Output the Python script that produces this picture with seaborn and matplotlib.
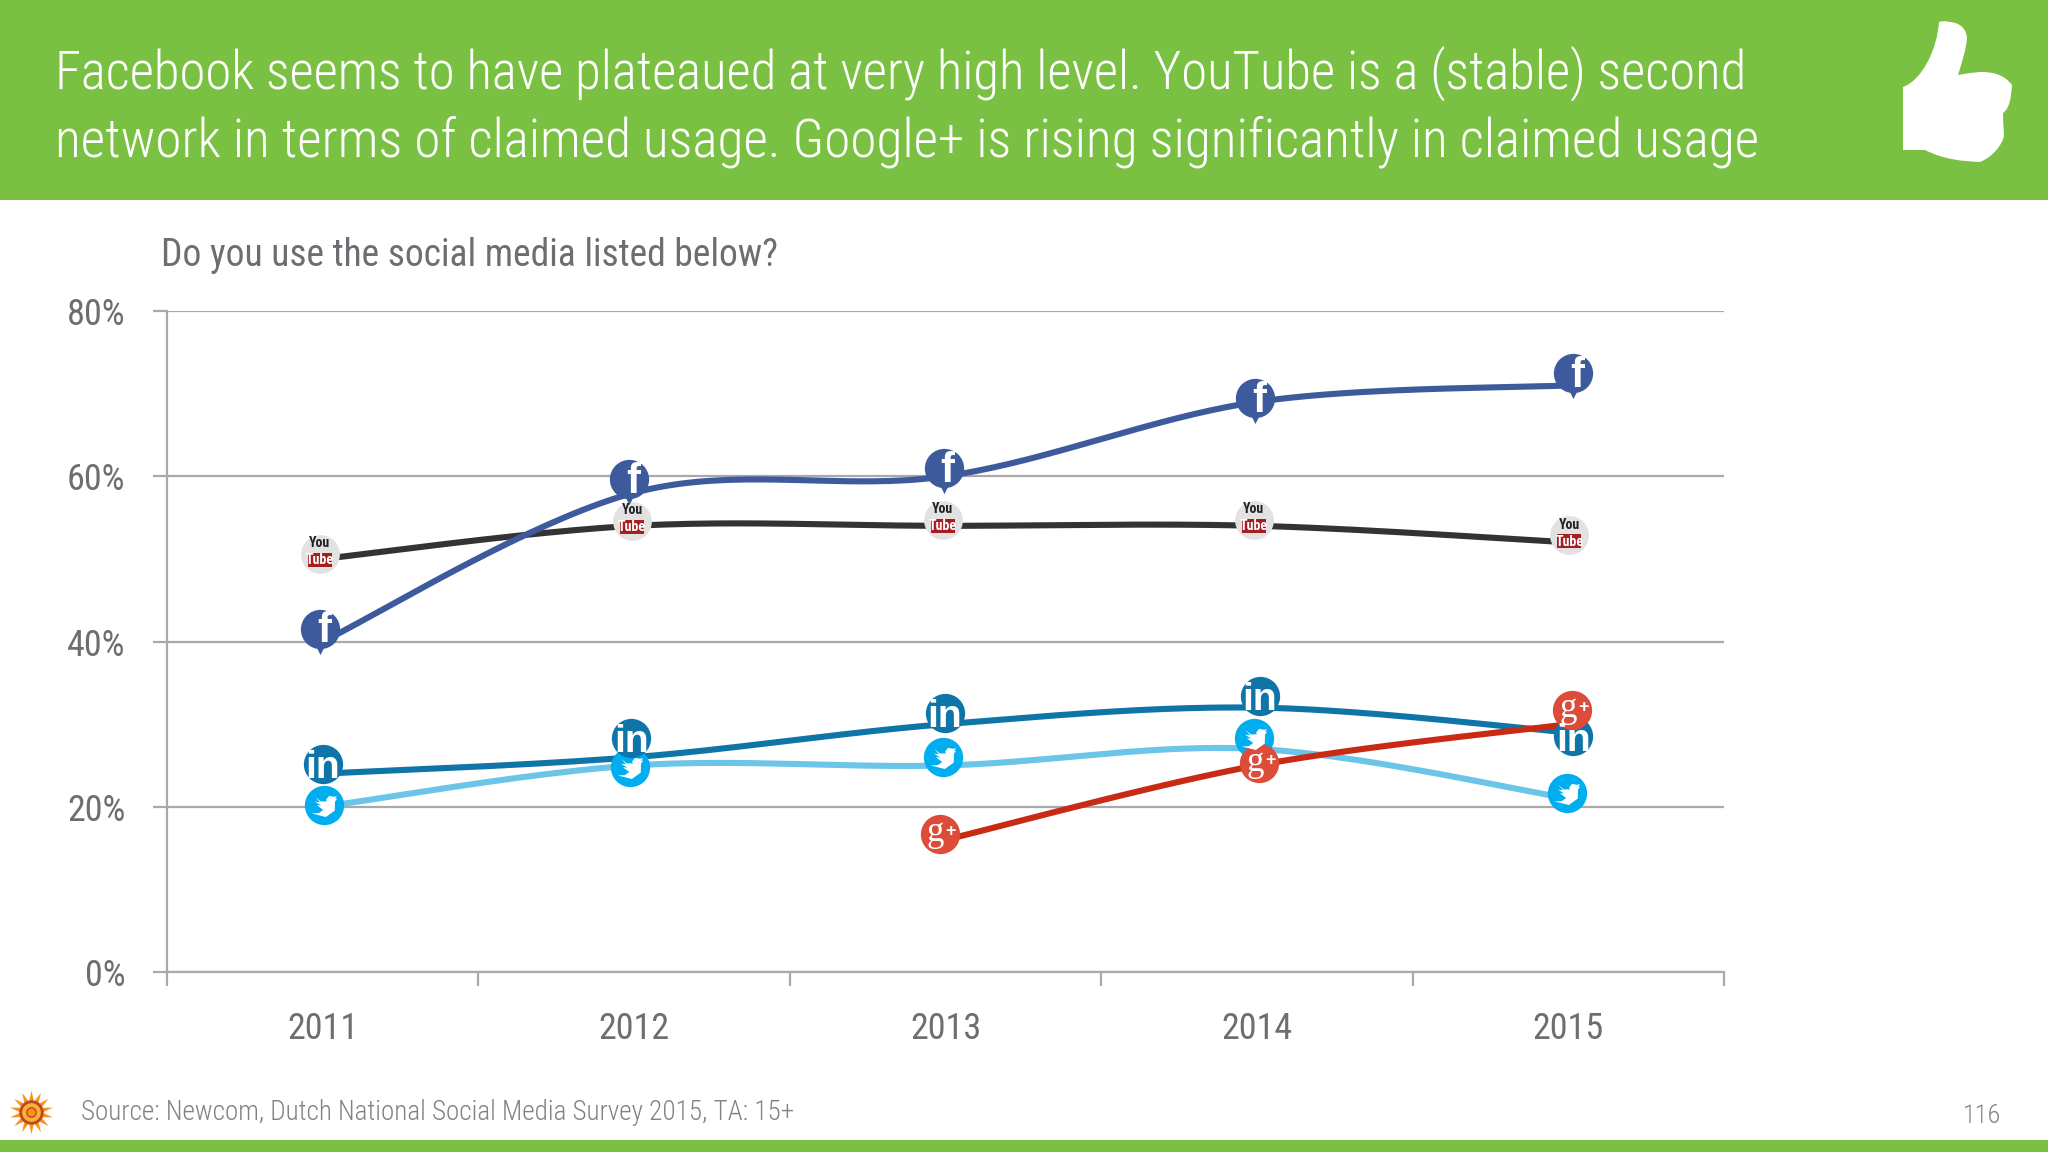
import numpy as np
import pandas as pd
import matplotlib
matplotlib.use("Agg")
import matplotlib.pyplot as plt
import seaborn as sns
from matplotlib.path import Path
from matplotlib.patches import PathPatch, Rectangle
from matplotlib.transforms import offset_copy

years = ["2011", "2012", "2013", "2014", "2015"]
y_ticks = [0, 20, 40, 60, 80]
facebook = [40, 58, 60, 69, 71]
youtube = [50, 54, 54, 54, 52]
linkedin = [24, 26, 30, 32, 29]
twitter = [20, 25, 25, 27, 21]
googleplus = [np.nan, np.nan, 16, 25, 30]

title_lines = ["Facebook seems to have plateaued at very high level. YouTube is a (stable) second",
               "network in terms of claimed usage. Google+ is rising significantly in claimed usage"]
question = "Do you use the social media listed below?"
source = "Source: Newcom, Dutch National Social Media Survey 2015, TA: 15+"
page = "116"

GREEN = "#7AC143"
FONT = ["Roboto Condensed", "Roboto", "DejaVu Sans"]
W, H = 2048, 1152
sns.set_theme(style="white")
plt.rcParams["font.family"] = FONT

fig = plt.figure(figsize=(W / 100, H / 100), dpi=100, facecolor="white")
bg = fig.add_axes([0, 0, 1, 1], zorder=0)
bg.set_xlim(0, W); bg.set_ylim(H, 0); bg.axis("off")
bg.add_patch(Rectangle((0, 0), W, 200, color=GREEN, lw=0))
bg.add_patch(Rectangle((0, 1140), W, 12, color=GREEN, lw=0))
for txt, yy, fs in zip(title_lines, (74, 142), (38, 38.3)):
    bg.text(55, yy, txt, color="white", fontsize=fs, va="center", ha="left", fontweight=300)
bg.text(161, 255, question, color="#6d6e71", fontsize=27, va="center", fontweight=400)
bg.text(81, 1113, source, color="#808285", fontsize=19.5, va="center", fontweight=300)
bg.text(2001, 1116, page, color="#808285", fontsize=19, va="center", ha="right", fontweight=300)

# thumbs-up decoration
M, L, C = Path.MOVETO, Path.LINETO, Path.CURVE4
thumb_v = [(1903, 87), (1922, 80), (1937, 50), (1939, 22), (1944, 21), (1950, 22), (1953, 22),
           (1966, 24), (1967, 38), (1966, 50), (1962, 62), (1958, 75), (1970, 73), (1980, 72), (1990, 72),
           (2003, 73), (2012, 85), (2011, 97), (2010, 108), (2003, 113), (2003, 124), (2004, 132), (2004, 136), (2003, 142),
           (1995, 156), (1980, 162), (1962, 161), (1945, 160), (1925, 150), (1903, 150), (1903, 87)]
thumb_c = [M] + [C] * 3 + [L] * 2 + [C] * 3 + [C] * 3 + [L] * 2 + [C] * 3 + [C] * 3 + [C] * 3 + [C] * 3 + [C] * 3 + [L]
thumb_v = thumb_v[:len(thumb_c)]
bg.add_patch(PathPatch(Path(thumb_v, thumb_c), fc="white", ec="none"))

# sun logo
bg.scatter([31], [1112], s=1000, marker=(14, 1, 0), color="#F7941D", lw=0)
bg.scatter([31], [1112], s=240, marker="o", facecolor="#F9B233", edgecolor="#C1461B", lw=2)
bg.scatter([31], [1112], s=45, marker="o", facecolor="#F7941D", edgecolor="#C1461B", lw=1)

ax = fig.add_axes([167 / W, 1 - 972 / H, (1724 - 167) / W, (972 - 311) / H], zorder=1)
ax.patch.set_alpha(0)


def smooth(values):
    """Excel-style smoothed connection through the known values, for the curve only."""
    xs = np.arange(len(values))
    keep = ~np.isnan(np.array(values, float))
    px, py = xs[keep].astype(float), np.array(values, float)[keep]
    ox, oy = [], []
    for i in range(len(px) - 1):
        x0, y0 = (px[i - 1], py[i - 1]) if i > 0 else (px[i], py[i])
        x3, y3 = (px[i + 2], py[i + 2]) if i + 2 < len(px) else (px[i + 1], py[i + 1])
        c1x, c1y = px[i] + (px[i + 1] - x0) / 6, py[i] + (py[i + 1] - y0) / 6
        c2x, c2y = px[i + 1] - (x3 - px[i]) / 6, py[i + 1] - (y3 - py[i]) / 6
        t = np.linspace(0, 1, 40)
        ox.extend((1 - t) ** 3 * px[i] + 3 * (1 - t) ** 2 * t * c1x + 3 * (1 - t) * t ** 2 * c2x + t ** 3 * px[i + 1])
        oy.extend((1 - t) ** 3 * py[i] + 3 * (1 - t) ** 2 * t * c1y + 3 * (1 - t) * t ** 2 * c2y + t ** 3 * py[i + 1])
    return pd.DataFrame({"pos": ox, "share": oy})


series = [
    ("youtube", youtube, "#333333", [(-3, 5), (-2, 5), (-3, 6), (-3, 6), (1, 7)]),
    ("twitter", twitter, "#6BC5E8", [(1, 2), (-4, -2), (-3, 8), (-3, 11), (-1, 5)]),
    ("linkedin", linkedin, "#0F75A8", [(0, 10), (-3, 19), (-1, 11), (3, 12), (5, -4)]),
    ("facebook", facebook, "#3D5A9C", [(-3, 13), (-5, 14), (-2, 8), (-2, 4), (5, 12)]),
    ("googleplus", googleplus, "#C92A14", [None, None, (-6, 6), (2, 2), (4, 14)]),
]
for name, vals, col, _ in series:
    sns.lineplot(data=smooth(vals), x="pos", y="share", color=col, lw=4.4, ax=ax, zorder=3,
                 estimator=None, sort=False)

ax.set_xlabel(""); ax.set_ylabel("")
ax.set_xlim(-0.5, 4.5)
ax.set_ylim(0, 80)

# gridlines / axes
TICK = "#a7a9ac"
ax.set_yticks(y_ticks)
ax.set_yticklabels([f"{v}%" for v in y_ticks], fontsize=26, color="#6d6e71", fontweight=400)
ax.yaxis.grid(True, color=TICK, lw=1.6, zorder=1)
ax.set_axisbelow(True)
ax.set_xticks(np.arange(-0.5, 5, 1))
ax.set_xticklabels([])
ax.set_xticks(np.arange(5), labels=years, minor=True)
for lab in ax.get_xticklabels(minor=True):
    lab.set_fontweight(400)
ax.tick_params(axis="x", which="major", bottom=True, length=10, width=1.6, color=TICK, direction="out")
ax.tick_params(axis="x", which="minor", bottom=False, length=0, labelsize=26, labelcolor="#6d6e71", pad=28)
ax.tick_params(axis="y", left=True, length=10, width=1.6, color=TICK, direction="out", pad=20)
for lab in ax.get_yticklabels():
    lab.set_y(lab.get_position()[1])
for s in ("top", "right"):
    ax.spines[s].set_visible(False)
for s in ("left", "bottom"):
    ax.spines[s].set_color(TICK)
    ax.spines[s].set_linewidth(1.6)

BIRD = Path([(-1, -0.62), (-0.45, -0.6), (-0.1, -0.35), (-0.6, 0.02), (-0.25, 0.0), (-0.75, 0.3),
             (-0.35, 0.25), (-0.72, 0.68), (-0.3, 0.32), (0.2, 0.32), (0.12, 0.45), (0.35, 0.75), (0.72, 0.68),
             (0.98, 0.72), (0.82, 0.5), (1.0, 0.55), (0.82, 0.3), (0.8, -0.4), (0.1, -0.9), (-1, -0.62)], closed=False)
TUBE = Path([(-1, -0.6), (1, -0.6), (1, 0.6), (-1, 0.6), (-1, -0.6)], closed=True)


def icon(name, x, y, dx, dy):
    tr = offset_copy(ax.transData, fig=fig, x=dx, y=dy, units="dots")
    kw = dict(transform=tr, clip_on=False, zorder=6)
    txt = dict(xy=(x, y), xycoords=tr, textcoords="offset points", ha="center", va="center", zorder=7,
               annotation_clip=False)
    if name == "facebook":
        ax.scatter([x], [y], s=800, color="#3D5A9C", lw=0, **kw)
        tr2 = offset_copy(ax.transData, fig=fig, x=dx, y=dy - 18, units="dots")
        ax.scatter([x], [y], s=120, marker="v", color="#3D5A9C", lw=0, transform=tr2, clip_on=False, zorder=6)
        ax.annotate("f", xytext=(3, -2), fontsize=30, fontweight="bold", color="white", family="Liberation Sans", **txt)
    elif name == "linkedin":
        ax.scatter([x], [y], s=800, color="#0F75A8", lw=0, **kw)
        ax.annotate("in", xytext=(0, -3), fontsize=28, fontweight="bold", color="white", family="Liberation Sans", **txt)
    elif name == "googleplus":
        ax.scatter([x], [y], s=800, color="#DD4B39", lw=0, **kw)
        ax.annotate("g", xytext=(-3, 1), fontsize=25, color="white", family="Liberation Serif", **txt)
        ax.annotate("+", xytext=(8, 2), fontsize=13, fontweight="bold", color="white", family="Liberation Sans", **txt)
    elif name == "twitter":
        ax.scatter([x], [y], s=800, color="#00AEEF", lw=0, **kw)
        ax.scatter([x], [y], s=340, marker=BIRD, color="white", lw=0, transform=tr, clip_on=False, zorder=7)
    else:
        ax.scatter([x], [y], s=780, color="#E2E2E2", lw=0, **kw)
        tb = offset_copy(ax.transData, fig=fig, x=dx, y=dy - 6, units="dots")
        ax.scatter([x], [y], s=300, marker=TUBE, color="#A51E22", lw=0, transform=tb, clip_on=False, zorder=7)
        ax.annotate("You", xytext=(0, 7.5), fontsize=10, fontweight="bold", color="#222222", **txt)
        ax.annotate("Tube", xytext=(0, -4.5), fontsize=10, fontweight="bold", color="white", **txt)


for name, vals, col, offs in series:
    for i, v in enumerate(vals):
        if not np.isnan(v):
            icon(name, i, v, *offs[i])

fig.savefig("out.png", dpi=100)
